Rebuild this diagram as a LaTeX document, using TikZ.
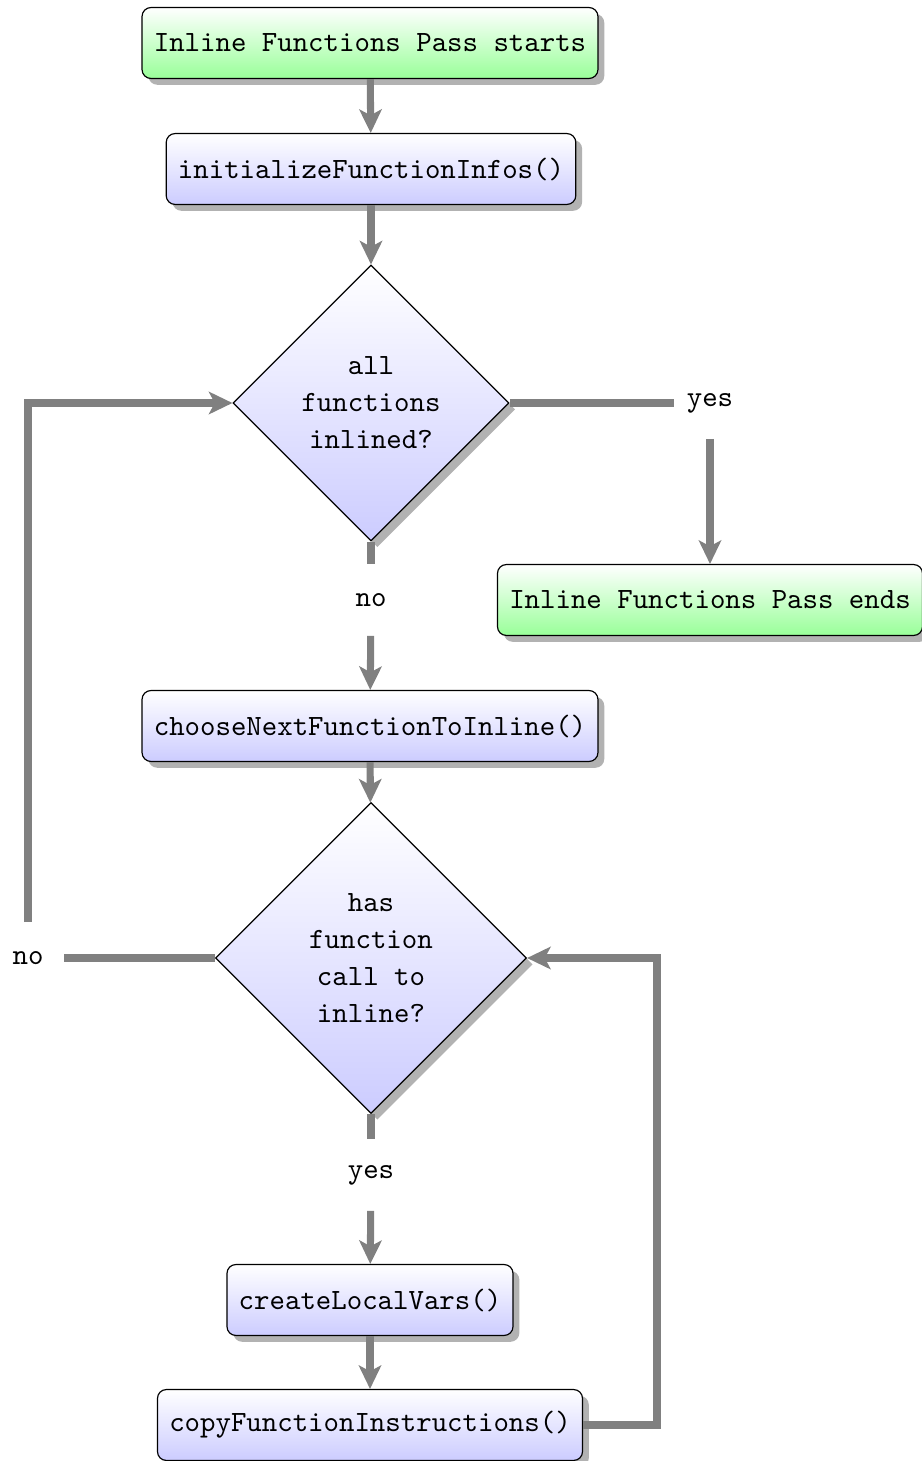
\documentclass[tikz,border=0pt]{standalone}
\usetikzlibrary{shapes.geometric,arrows.meta,shadows,calc}
\begin{document}
\begin{tikzpicture}[x=0.34pt,y=-0.34pt,
 base/.style={draw=black, line width=0.4pt, font=\ttfamily, drop shadow={fill=black!30,opacity=1}},
 blockbox/.style={base, rectangle, rounded corners=3pt, top color=white, bottom color=blue!20, inner xsep=4pt, minimum height=24.1pt},
 termbox/.style={blockbox, top color=white, bottom color=green!40},
 decisionbox/.style={base, diamond, aspect=1, inner sep=1pt, align=center, top color=white, bottom color=blue!20, font=\ttfamily\fontsize{10}{12.6}\selectfont},
 lbl/.style={rectangle, inner sep=0pt, minimum width=24pt, minimum height=24pt, font=\ttfamily},
 conn/.style={draw=black!50, line width=2.4pt},
 arr/.style={conn, -{Stealth[length=8pt,width=7.6pt,inset=2pt]}}
]
\useasboundingbox (0,0) rectangle (921,1461);
\node[termbox] (start) at (370,43) {Inline Functions Pass starts};
\node[blockbox] (init) at (371,169) {initializeFunctionInfos()};
\node[decisionbox, minimum size=93.8pt] (d1) at (371,403) {all\\functions\\inlined?};
\node[lbl] (yes1) at (710,403) {yes};
\node[termbox] (stop) at (710,600) {Inline Functions Pass ends};
\node[lbl] (no1) at (371,600) {no};
\node[blockbox] (choose) at (370,726) {chooseNextFunctionToInline()};
\node[decisionbox, minimum size=105.7pt] (d2) at (371,958) {has\\function\\call to\\inline?};
\node[lbl] (no2) at (28,958) {no};
\node[lbl] (yes2) at (371,1175) {yes};
\node[blockbox] (create) at (370,1300) {createLocalVars()};
\node[blockbox] (copy) at (370,1425) {copyFunctionInstructions()};
\coordinate (loopR) at (657,1200);

\draw[arr] (start) -- (init);
\draw[arr] (init) -- (d1);
\draw[conn] (d1) -- (yes1);
\draw[arr] (yes1) -- (stop);
\draw[conn] (d1) -- (no1);
\draw[arr] (no1) -- (choose);
\draw[arr] (choose) -- (d2);
\draw[conn] (d2) -- (no2);
\draw[arr] (no2) |- (d1);
\draw[conn] (d2) -- (yes2);
\draw[arr] (yes2) -- (create);
\draw[arr] (create) -- (copy);
\draw[arr] (copy) -| (loopR) |- (d2);
\end{tikzpicture}
\end{document}
